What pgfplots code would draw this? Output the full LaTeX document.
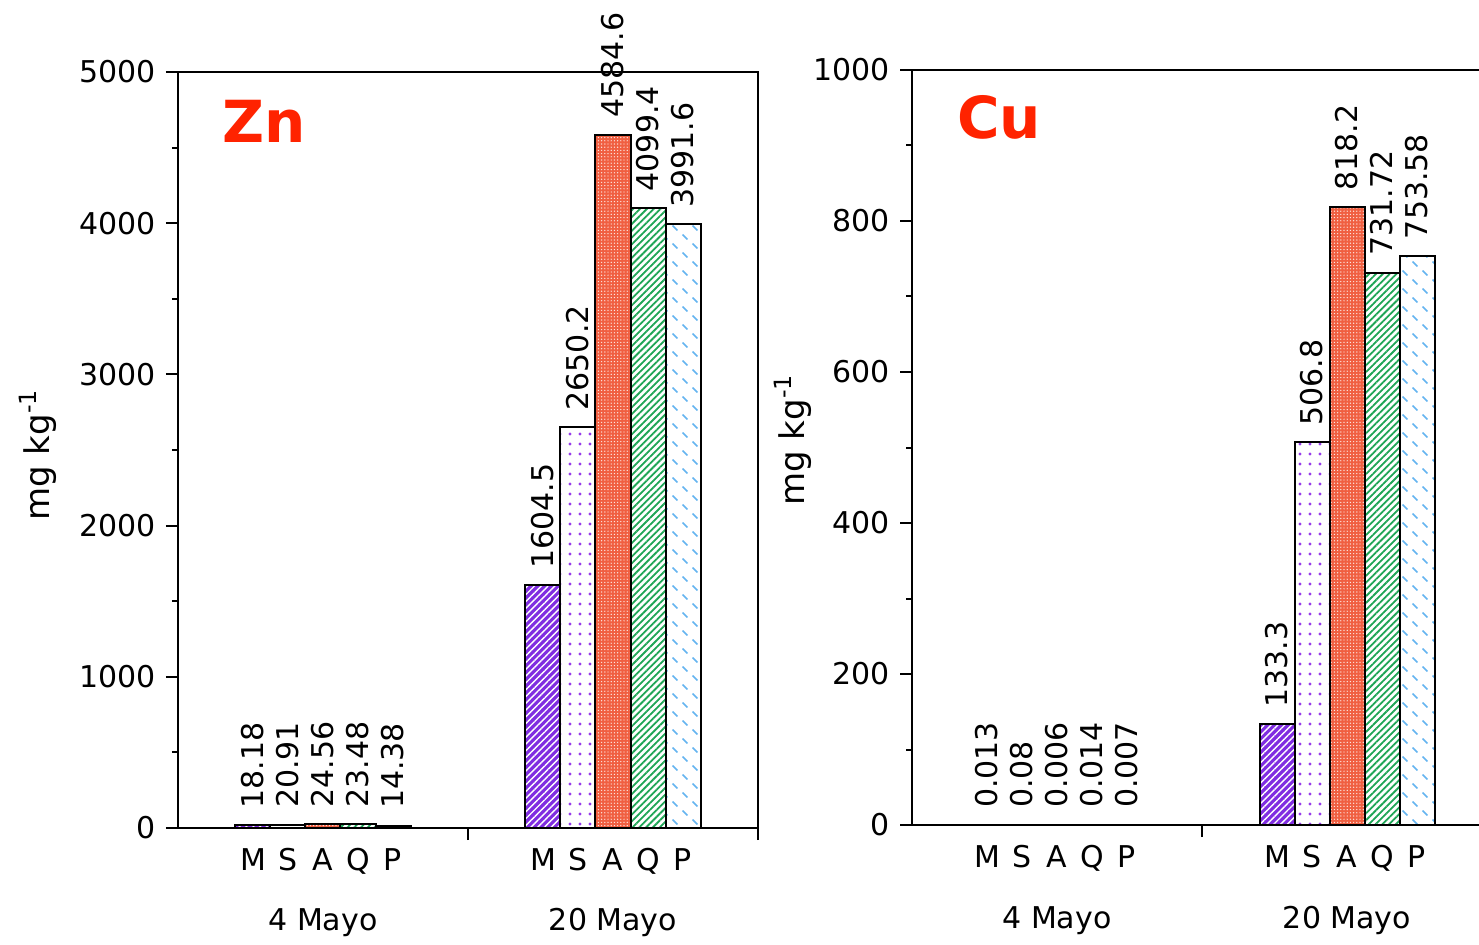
\documentclass[border=0pt]{standalone}
\usepackage{fontspec}
\setmainfont{DejaVu Sans}
\usepackage{pgfplots}
\pgfplotsset{compat=1.18}
\usetikzlibrary{patterns,patterns.meta}

\definecolor{cM}{RGB}{128,45,225}
\definecolor{cS}{RGB}{150,60,235}
\definecolor{cA}{RGB}{240,95,65}
\definecolor{cQ}{RGB}{30,165,85}
\definecolor{cP}{RGB}{100,180,240}
\definecolor{ttl}{RGB}{255,35,0}

\pgfdeclarepatternformonly{bluedash}{\pgfqpoint{-1pt}{-1pt}}{\pgfqpoint{11pt}{10pt}}{\pgfqpoint{10pt}{9pt}}{%
  \pgfsetlinewidth{0.8pt}%
  \pgfpathmoveto{\pgfqpoint{1.3pt}{3.7pt}}\pgfpathlineto{\pgfqpoint{3.7pt}{1.3pt}}%
  \pgfpathmoveto{\pgfqpoint{6.3pt}{8.2pt}}\pgfpathlineto{\pgfqpoint{8.7pt}{5.8pt}}%
  \pgfusepath{stroke}%
}

\pgfplotsset{
  mybar/.style={ybar, bar width=0.1207, bar shift=0pt, draw=black, line width=1pt},
  barM/.style={mybar, fill=cM, postaction={pattern={Lines[angle=45,distance=2.4pt,line width=0.7pt]}, pattern color=white, draw=black, line width=1pt}},
  barS/.style={mybar, fill=white, postaction={pattern={Dots[radius=0.8pt,distance=5pt]}, pattern color=cS, draw=black, line width=1pt}},
  barA/.style={mybar, fill=cA, postaction={pattern={Dots[radius=0.35pt,distance=1.6pt]}, pattern color=white!85!cA, draw=black, line width=1pt}},
  barQ/.style={mybar, fill=white, postaction={pattern={Lines[angle=45,distance=2.4pt,line width=0.9pt]}, pattern color=cQ, draw=black, line width=1pt}},
  barP/.style={mybar, fill=white, postaction={pattern=bluedash, pattern color=cP, draw=black, line width=1pt}},
  myaxis/.style={
    scale only axis,
    width=290pt,
    xmin=-0.5, xmax=1.5, ymin=0,
    xtick={0.5,1.5}, xticklabels={},
    extra x ticks={-0.2414,-0.1207,0,0.1207,0.2414,0.7586,0.8793,1,1.1207,1.2414},
    extra x tick labels={M,S,A,Q,P,M,S,A,Q,P},
    extra x tick style={major tick length=0pt, tick label style={yshift=-5pt}},
    tick align=outside, xtick pos=left, ytick pos=left,
    minor y tick num=1, major tick length=6pt, minor tick length=3pt,
    axis line style={line width=1pt},
    every tick/.style={black, line width=1pt},
    /pgf/number format/assume math mode=true,
    /pgf/number format/1000 sep={},
    nodes near coords, point meta=explicit symbolic,
    every node near coord/.append style={rotate=90, anchor=west, inner ysep=0pt, inner xsep=8pt, text=black},
    clip=false,
  },
}

\begin{document}
\fontsize{15}{18}\selectfont
\begin{tikzpicture}
% ---------------- Zn ----------------
\begin{axis}[myaxis, name=zn, at={(0pt,0pt)}, anchor=south west,
  height=378pt, ymax=5000, ytick={0,1000,2000,3000,4000,5000}]
\addplot[barM] coordinates {(-0.2414,18.18) [18.18] (0.7586,1604.5) [1604.5]};
\addplot[barS] coordinates {(-0.1207,20.91) [20.91] (0.8793,2650.2) [2650.2]};
\addplot[barA] coordinates {(0,24.56) [24.56] (1,4584.6) [4584.6]};
\addplot[barQ] coordinates {(0.1207,23.48) [23.48] (1.1207,4099.4) [4099.4]};
\addplot[barP] coordinates {(0.2414,14.38) [14.38] (1.2414,3991.6) [3991.6]};
\node[anchor=north west, inner sep=0pt, text=ttl, font=\fontsize{29}{30}\selectfont\bfseries]
  at ([xshift=22pt,yshift=-14pt]rel axis cs:0,1) {Zn};
\node[rotate=90, anchor=center, inner sep=0pt, font=\fontsize{17}{20}\selectfont] at ([xshift=-70pt,yshift=-2.5pt]rel axis cs:0,0.5) {mg kg\textsuperscript{-1}};
\node[anchor=base, inner sep=0pt] at ([yshift=-51pt]axis cs:0,0) {4 Mayo};
\node[anchor=base, inner sep=0pt] at ([yshift=-51pt]axis cs:1,0) {20 Mayo};
\end{axis}
% ---------------- Cu ----------------
\begin{axis}[myaxis, name=cu, at={(367pt,1.5pt)}, anchor=south west,
  height=377.5pt, ymax=1000, ytick={0,200,400,600,800,1000}]
\addplot[barM] coordinates {(-0.2414,0.013) [0.013] (0.7586,133.3) [133.3]};
\addplot[barS] coordinates {(-0.1207,0.08) [0.08] (0.8793,506.8) [506.8]};
\addplot[barA] coordinates {(0,0.006) [0.006] (1,818.2) [818.2]};
\addplot[barQ] coordinates {(0.1207,0.014) [0.014] (1.1207,731.72) [731.72]};
\addplot[barP] coordinates {(0.2414,0.007) [0.007] (1.2414,753.58) [753.58]};
\node[anchor=north west, inner sep=0pt, text=ttl, font=\fontsize{29}{30}\selectfont\bfseries]
  at ([xshift=22.5pt,yshift=-12.5pt]rel axis cs:0,1) {Cu};
\node[rotate=90, anchor=center, inner sep=0pt, font=\fontsize{17}{20}\selectfont] at ([xshift=-59.5pt,yshift=3.75pt]rel axis cs:0,0.5) {mg kg\textsuperscript{-1}};
\node[anchor=base, inner sep=0pt] at ([yshift=-51.5pt]axis cs:0,0) {4 Mayo};
\node[anchor=base, inner sep=0pt] at ([yshift=-51.5pt]axis cs:1,0) {20 Mayo};
\end{axis}
\pgfresetboundingbox
\path[use as bounding box] (-89pt,-58pt) rectangle (650.5pt,414pt);
\end{tikzpicture}
\end{document}
